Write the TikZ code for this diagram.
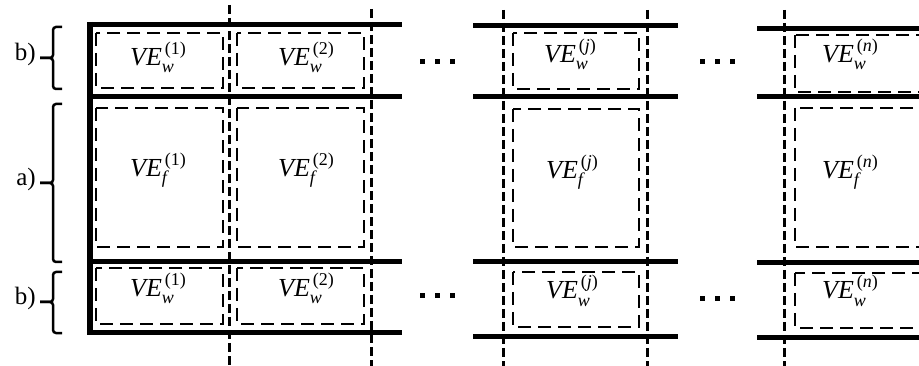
\documentclass[tikz,border=0pt]{standalone}
\usepackage{fontspec}
\setmainfont{Liberation Serif}
\newcommand{\VEl}[2]{\textit{VE}\rlap{\raisebox{-7pt}{\fontsize{18}{20}\selectfont\textit{#1}}}\kern3pt\raisebox{11.5pt}{\fontsize{18}{20}\selectfont #2}}
\tikzset{
  thick line/.style={line width=5pt},
  edge line/.style={line width=6pt},
  grid dash/.style={line width=3pt, dash pattern=on 9pt off 4pt},
  cell dash/.style={line width=2.2pt, dash pattern=on 13pt off 7pt},
  bracepath/.style={line width=2.5pt, rounded corners=3pt},
  lbl/.style={font=\fontsize{25}{28}\selectfont, anchor=mid east, inner sep=0pt},
  vetext/.style={font=\fontsize{26}{30}\selectfont, anchor=base west, inner sep=0pt},
  dotsq/.style={fill=black}
}
\begin{document}
\begin{tikzpicture}[x=1pt,y=-1pt]
\useasboundingbox (0,0) rectangle (919,366);
\clip (0,0) rectangle (919,366);
% vertical dashed grid lines
\foreach \x/\yt in {229/5, 371/9, 503/10, 647/10, 784/10} {
  \draw[grid dash] (\x,\yt) -- (\x,366);
}
% block 1 thick lines
\draw[thick line] (87,24.5) -- (402,24.5);
\draw[thick line] (87,97) -- (402,97);
\draw[thick line] (87,262) -- (402,262);
\draw[thick line] (87,332) -- (402,332);
\draw[edge line] (90,22) -- (90,334.5);
% block j thick lines
\draw[thick line] (473,26) -- (678,26);
\draw[thick line] (473,97) -- (678,97);
\draw[thick line] (473,262) -- (678,262);
\draw[thick line] (473,336) -- (678,336);
% block n thick lines
\draw[thick line] (757,29) -- (925,29);
\draw[thick line] (757,97) -- (925,97);
\draw[thick line] (757,263) -- (925,263);
\draw[thick line] (757,337) -- (925,337);
% dashed cells
\foreach \xa/\xb in {96/223, 237/364} {
  \draw[cell dash] (\xa,33) rectangle (\xb,88);
  \draw[cell dash] (\xa,108) rectangle (\xb,247);
  \draw[cell dash] (\xa,268) rectangle (\xb,324);
}
\draw[cell dash] (513,33) rectangle (639,89);
\draw[cell dash] (513,109) rectangle (639,247);
\draw[cell dash] (513,272) rectangle (639,327);
\draw[cell dash] (795,35) rectangle (935,92);
\draw[cell dash] (795,108) rectangle (935,247);
\draw[cell dash] (795,273) rectangle (935,328);
% texts
\node[vetext] (w1t) at (130,66) {\VEl{w}{(1)}};
\node[vetext] (w2t) at (278,66) {\VEl{w}{(2)}};
\node[vetext] (wjt) at (544,63) {\VEl{w}{(\textit{j})}};
\node[vetext] (wnt) at (822,63) {\VEl{w}{(\textit{n})}};
\node[vetext] (f1) at (130,177) {\VEl{f}{(1)}};
\node[vetext] (f2) at (278,177) {\VEl{f}{(2)}};
\node[vetext] (fj) at (546,179) {\VEl{f}{(\textit{j})}};
\node[vetext] (fn) at (822,179) {\VEl{f}{(\textit{n})}};
\node[vetext] (w1b) at (130,297) {\VEl{w}{(1)}};
\node[vetext] (w2b) at (278,297) {\VEl{w}{(2)}};
\node[vetext] (wjb) at (546,299) {\VEl{w}{(\textit{j})}};
\node[vetext] (wnb) at (822,299) {\VEl{w}{(\textit{n})}};
% dots
\foreach \x in {422,437,452} {
  \fill[dotsq] (\x-2.5,62-2.5) rectangle (\x+2.5,62+2.5);
  \fill[dotsq] (\x-2.5,296-2.5) rectangle (\x+2.5,296+2.5);
}
\foreach \x in {702,717,732} {
  \fill[dotsq] (\x-2.5,62-2.5) rectangle (\x+2.5,62+2.5);
  \fill[dotsq] (\x-2.5,299-2.5) rectangle (\x+2.5,299+2.5);
}
% braces
\foreach \ya/\ym/\yb in {27/58/89, 104/183/262, 272/302/333} {
  \draw[bracepath] (62,\ya) -- (53,\ya) -- (53,\ym) -- (40,\ym);
  \draw[bracepath] (62,\yb) -- (53,\yb) -- (53,\ym) -- (40,\ym);
}
\node[lbl] (lb1) at (36,58) {b)};
\node[lbl] (la) at (36,183) {a)};
\node[lbl] (lb2) at (36,302) {b)};
\end{tikzpicture}
\end{document}
